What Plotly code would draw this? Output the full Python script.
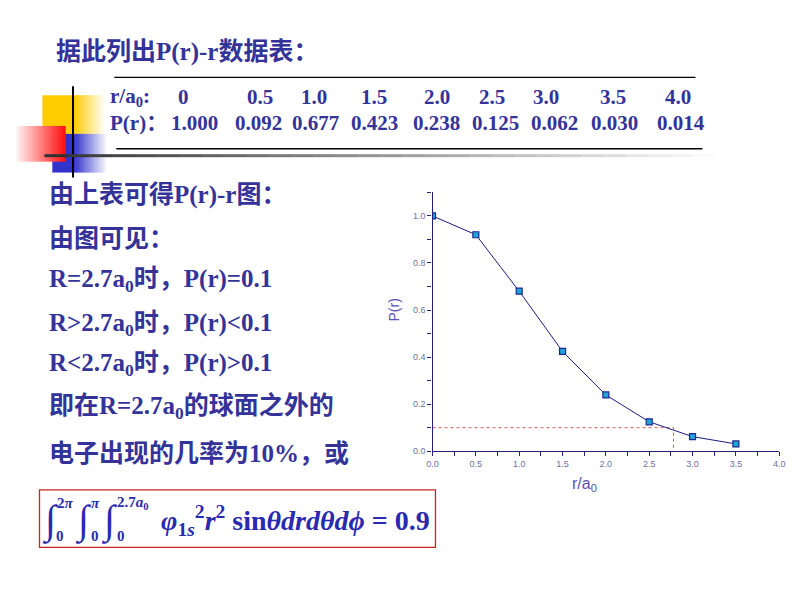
import plotly.graph_objects as go

# ---------------- data ----------------
r_vals = [0.0, 0.5, 1.0, 1.5, 2.0, 2.5, 3.0, 3.5]
p_vals = [1.000, 0.92, 0.68, 0.424, 0.239, 0.125, 0.062, 0.031]
r_crit = 2.78
p_crit = 0.1

table_r = ["0", "0.5", "1.0", "1.5", "2.0", "2.5", "3.0", "3.5", "4.0"]
table_p = ["1.000", "0.092", "0.677", "0.423", "0.238", "0.125", "0.062", "0.030", "0.014"]

x_ticks = [0.0, 0.5, 1.0, 1.5, 2.0, 2.5, 3.0, 3.5, 4.0]
y_ticks = [0.0, 0.2, 0.4, 0.6, 0.8, 1.0]

left_lines = [
    "由上表可得P(r)-r图：",
    "由图可见：",
    "R=2.7a<sub>0</sub>时，P(r)=0.1",
    "R&gt;2.7a<sub>0</sub>时，P(r)&lt;0.1",
    "R&lt;2.7a<sub>0</sub>时，P(r)&gt;0.1",
    "即在R=2.7a<sub>0</sub>的球面之外的",
    "电子出现的几率为10%，或",
]

# ---------------- layout helpers ----------------
W, H = 800, 600
def px(x):
    return x / W
def py(y):
    return 1 - y / H

NAVY = "#333399"
FONT = "Liberation Serif, Noto Sans CJK SC"

fig = go.Figure()

fig.add_trace(go.Scatter(
    x=[0, r_crit, r_crit], y=[p_crit, p_crit, 0], mode="lines",
    line=dict(color="#e05050", width=1, dash="dot"), hoverinfo="skip",
    showlegend=False,
))
fig.add_trace(go.Scatter(
    x=r_vals, y=p_vals, mode="lines+markers",
    line=dict(color="#1c1c80", width=1),
    marker=dict(symbol="square", size=6, color="#20a4d8",
                line=dict(color="#1a2a90", width=1.2)),
    showlegend=False,
))

axis_col = "#23207a"
fig.update_layout(
    width=W, height=H, margin=dict(l=0, r=0, t=0, b=0),
    paper_bgcolor="white", plot_bgcolor="white",
    xaxis=dict(domain=[px(433), px(785)], range=[0, 4], tickvals=x_ticks,
               ticktext=[f"{v:.1f}" for v in x_ticks],
               showgrid=False, zeroline=False, showline=True,
               linecolor=axis_col, linewidth=1.3, ticks="outside",
               ticklen=4, tickcolor=axis_col, tickwidth=1.2,
               minor=dict(dtick=0.25, ticks="outside", ticklen=4,
                          tickcolor=axis_col, showgrid=False),
               tickfont=dict(family="Liberation Sans", size=9, color="#7070a0")),
    yaxis=dict(domain=[py(455), py(194)], range=[0, 1.1], tickvals=y_ticks,
               ticktext=[f"{v:.1f}" for v in y_ticks],
               showgrid=False, zeroline=False, showline=True,
               linecolor=axis_col, linewidth=1.3, ticks="outside",
               ticklen=4, tickcolor=axis_col, tickwidth=1.2,
               minor=dict(dtick=0.1, ticks="outside", ticklen=4,
                          tickcolor=axis_col, showgrid=False),
               tickfont=dict(family="Liberation Sans", size=9, color="#7070a0")),
)

shapes = []
ann = []

def rect(x0, y0, x1, y1, color, line=None):
    shapes.append(dict(type="rect", xref="paper", yref="paper",
                       x0=px(x0), x1=px(x1), y0=py(y1), y1=py(y0),
                       fillcolor=color, line=dict(width=0) if line is None else line,
                       layer="below"))

def lerp(c0, c1, t):
    return "rgb(%d,%d,%d)" % tuple(round(a + (b - a) * t) for a, b in zip(c0, c1))

def grad_rect(x0, y0, x1, y1, c0, c1, n=24):
    w = (x1 - x0) / n
    for i in range(n):
        rect(x0 + i * w, y0, x0 + (i + 1) * w + 0.6, y1, lerp(c0, c1, i / (n - 1)))

def line(x0, y0, x1, y1, color, width):
    shapes.append(dict(type="line", xref="paper", yref="paper",
                       x0=px(x0), x1=px(x1), y0=py(y0), y1=py(y1),
                       line=dict(color=color, width=width)))

# decorations
rect(37, 96, 68, 135, "rgb(255,204,0)")
grad_rect(68, 96, 102, 135, (255, 204, 0), (255, 255, 255), n=16)
rect(47, 135, 68, 174, "rgb(51,51,204)")
grad_rect(68, 135, 104, 174, (51, 51, 204), (255, 255, 255), n=16)
grad_rect(11, 127, 60, 163, (255, 236, 236), (255, 20, 20), n=20)
line(68, 87, 68, 179, "black", 2)
nseg = 30
for i in range(nseg):
    xa = 39 + (720 - 39) * i / nseg
    xb = 39 + (720 - 39) * (i + 1) / nseg + 0.5
    line(xa, 157, xb, 157, lerp((50, 50, 50), (250, 250, 250), i / (nseg - 1)), 3)

# table rules
line(110, 78, 700, 78, "black", 1.3)
line(112, 150, 707, 150, "black", 1.3)

# formula box
shapes.append(dict(type="rect", xref="paper", yref="paper",
                   x0=px(34), x1=px(436), y0=py(552), y1=py(494),
                   line=dict(color="#cc2222", width=1.3), fillcolor="rgba(0,0,0,0)"))

def text(x, y, s, size, color=NAVY, anchor="left", family=FONT, bold=True):
    ann.append(dict(xref="paper", yref="paper", x=px(x), y=py(y), text=s,
                    showarrow=False, xanchor=anchor, yanchor="middle",
                    borderpad=0, borderwidth=0,
                    font=dict(family=family, size=size, color=color,
                              weight="bold" if bold else "normal")))

# title
text(51, 52, "据此列出P(r)-r数据表：", 25)

# table
r_pos = [180, 258, 313, 374, 438, 493, 548, 616, 682]
p_pos = [191, 256, 314, 374, 437, 497, 557, 618, 685]
text(106, 98, "r/a<sub>0</sub>:", 21)
text(106, 124, "P(r)：", 21)
for s, x in zip(table_r, r_pos):
    text(x, 98, s, 21, anchor="center")
for s, x in zip(table_p, p_pos):
    text(x, 124, s, 21, anchor="center")

# left column
ys = [197, 240, 283, 327, 368, 410, 457]
for s, y in zip(left_lines, ys):
    text(44, y, s, 25)

# axis titles
ann.append(dict(xref="paper", yref="paper", x=px(394), y=py(313), text="P(r)",
                showarrow=False, textangle=-90, xanchor="center", yanchor="middle",
                font=dict(family="Liberation Sans", size=14, color="#5a4fb5")))
text(587, 489, "r/a<sub>0</sub>", 16, color="#5a4fb5", anchor="center",
     family="Liberation Sans", bold=False)

# formula
FC = "#2a2ab0"
for xi in [45, 79, 105]:
    text(xi, 525, "∫", 40, color=FC, anchor="center", family="Liberation Serif", bold=False)
text(52, 507, "2<i>π</i>", 15, color=FC)
text(86, 507, "<i>π</i>", 15, color=FC)
text(113, 507, "2.7<i>a</i><sub>0</sub>", 15, color=FC)
for xi in [51, 86, 113]:
    text(xi, 541, "0", 15, color=FC)
text(157, 525, "<i>φ</i><sub>1<i>s</i></sub><sup>2</sup><i>r</i><sup>2</sup> sin<i>θdrdθdϕ</i> = 0.9",
     28, color=FC)

fig.update_layout(shapes=shapes, annotations=ann)
fig.write_html("out.html", config={"displayModeBar": False})
